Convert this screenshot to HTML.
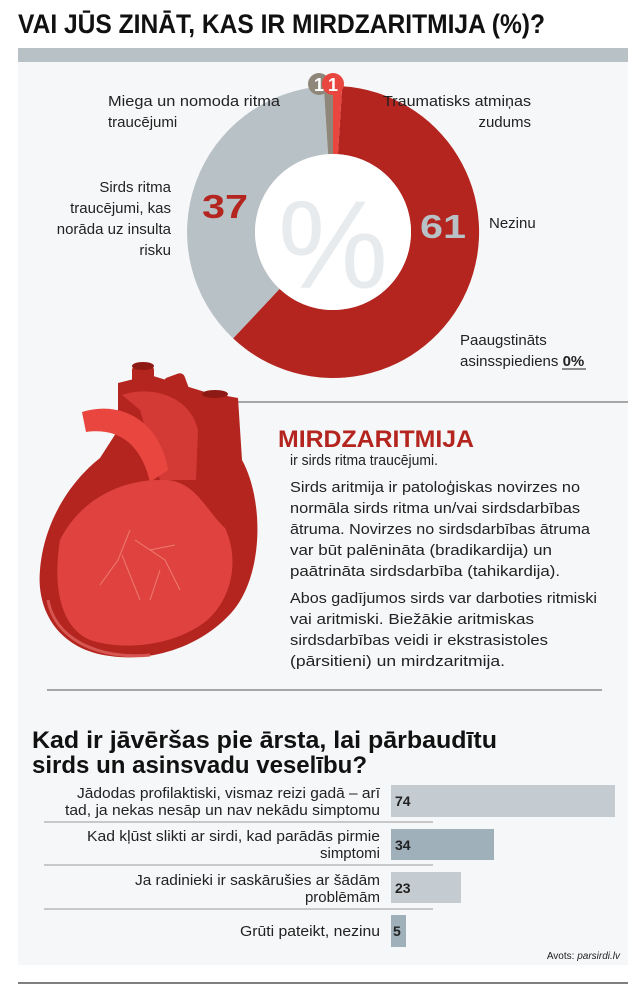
<!DOCTYPE html>
<html><head><meta charset="utf-8"><style>
html,body{margin:0;padding:0;background:#fff;}
svg{display:block;}
text{font-family:"Liberation Sans",sans-serif;fill:#222;}
</style></head><body>
<svg width="644" height="1000" viewBox="0 0 644 1000" xmlns="http://www.w3.org/2000/svg">
<rect width="644" height="1000" fill="#fff"/>
<rect x="18" y="62" width="610" height="903" fill="#f6f7f8"/>
<rect x="18" y="48" width="610" height="14" fill="#b8c1c6"/>
<text x="18" y="33" font-size="27" font-weight="bold" textLength="527" lengthAdjust="spacingAndGlyphs" style="fill:#111">VAI JŪS ZINĀT, KAS IR MIRDZARITMIJA (%)?</text>

<!-- donut -->
<path d="M342.2,86.3 A146,146 0 1 1 233.1,338.4 L279.6,288.9 A78,78 0 1 0 337.9,154.2 Z" fill="#b4251f"/>
<path d="M233.1,338.4 A146,146 0 0 1 323.8,86.3 L328.1,154.2 A78,78 0 0 0 279.6,288.9 Z" fill="#b8c1c6"/>
<path d="M323.8,86.3 A146,146 0 0 1 333,86 L333,154 A78,78 0 0 0 328.1,154.2 Z" fill="#8f877a"/>
<path d="M333,86 A146,146 0 0 1 342.2,86.3 L337.9,154.2 A78,78 0 0 0 333,154 Z" fill="#e8463f"/>
<circle cx="333" cy="232" r="78" fill="#fff"/>
<text x="333" y="288" font-size="125" text-anchor="middle" textLength="110" lengthAdjust="spacingAndGlyphs" style="fill:#e8ebee">%</text>
<circle cx="319" cy="84" r="11" fill="#8f877a"/>
<circle cx="333" cy="84" r="11" fill="#e8463f"/>
<text x="319" y="91" font-size="18" font-weight="bold" text-anchor="middle" style="fill:#fff">1</text>
<text x="333" y="91" font-size="18" font-weight="bold" text-anchor="middle" style="fill:#fff">1</text>
<text x="202" y="218" font-size="33" font-weight="bold" textLength="46" lengthAdjust="spacingAndGlyphs" style="fill:#b4251f">37</text>
<text x="420" y="238" font-size="33" font-weight="bold" textLength="46" lengthAdjust="spacingAndGlyphs" style="fill:#b8c1c6">61</text>

<g font-size="15">
<text x="108" y="106" textLength="172" lengthAdjust="spacingAndGlyphs">Miega un nomoda ritma</text>
<text x="108" y="127">traucējumi</text>
<text x="383" y="106" textLength="148" lengthAdjust="spacingAndGlyphs">Traumatisks atmiņas</text>
<text x="531" y="127" text-anchor="end">zudums</text>
<text x="171" y="192" text-anchor="end">Sirds ritma</text>
<text x="171" y="213" text-anchor="end">traucējumi, kas</text>
<text x="171" y="234" text-anchor="end">norāda uz insulta</text>
<text x="171" y="255" text-anchor="end">risku</text>
<text x="489" y="228">Nezinu</text>
<text x="460" y="345">Paaugstināts</text>
<text x="460" y="366">asinsspiediens <tspan font-weight="bold">0%</tspan></text>
</g>
<line x1="562" y1="369" x2="586" y2="369" stroke="#222" stroke-width="1"/>

<!-- heart -->
<line x1="205" y1="402" x2="628" y2="402" stroke="#555" stroke-width="1"/>
<path d="M118,383 L150,375 L205,392 L238,398 L242,460 C264,500 264,575 232,612 C200,648 150,662 110,656 C60,650 36,612 40,570 C44,520 72,480 100,458 L118,430 Z" fill="#b4251f"/>
<rect x="132" y="365" width="22" height="20" rx="5" fill="#b4251f"/>
<ellipse cx="143" cy="366" rx="11" ry="4" fill="#8e1a16"/>
<rect x="165" y="375" width="22" height="20" rx="5" fill="#b4251f" transform="rotate(-20 176 385)"/>
<rect x="202" y="393" width="26" height="18" rx="5" fill="#b4251f"/>
<ellipse cx="215" cy="394" rx="13" ry="4" fill="#8e1a16"/>
<path d="M122,395 C150,385 190,395 198,430 L196,480 L160,480 L140,410 Z" fill="#d33a35"/>
<path d="M82,412 C120,400 160,420 168,470 L150,482 C140,440 115,428 86,432 Z" fill="#e8463f"/>
<path d="M60,540 C80,500 120,480 160,480 C195,478 205,510 225,528 C240,560 232,600 205,622 C170,648 120,650 90,640 C62,628 52,590 60,540 Z" fill="#e0433f"/>
<path d="M48,600 C55,640 100,660 150,655" stroke="#d65550" stroke-width="3" fill="none"/>
<g stroke="#f08a80" stroke-width="1" fill="none" opacity="0.8">
<path d="M130,530 L118,560 L100,585 M122,555 L140,600 M135,540 L165,560 L180,590 M150,550 L175,545 M160,570 L150,600"/>
</g>

<!-- text block -->
<text x="278" y="447" font-size="24" font-weight="bold" textLength="196" lengthAdjust="spacingAndGlyphs" style="fill:#b4251f">MIRDZARITMIJA</text>
<g font-size="15">
<text x="290" y="465" textLength="148" lengthAdjust="spacingAndGlyphs">ir sirds ritma traucējumi.</text>
<text x="290" y="492" textLength="290" lengthAdjust="spacingAndGlyphs">Sirds aritmija ir patoloģiskas novirzes no</text>
<text x="290" y="513" textLength="290" lengthAdjust="spacingAndGlyphs">normāla sirds ritma un/vai sirdsdarbības</text>
<text x="290" y="534" textLength="300" lengthAdjust="spacingAndGlyphs">ātruma. Novirzes no sirdsdarbības ātruma</text>
<text x="290" y="555" textLength="262" lengthAdjust="spacingAndGlyphs">var būt palēnināta (bradikardija) un</text>
<text x="290" y="576" textLength="270" lengthAdjust="spacingAndGlyphs">paātrināta sirdsdarbība (tahikardija).</text>
<text x="290" y="603" textLength="307" lengthAdjust="spacingAndGlyphs">Abos gadījumos sirds var darboties ritmiski</text>
<text x="290" y="624" textLength="244" lengthAdjust="spacingAndGlyphs">vai aritmiski. Biežākie aritmiskas</text>
<text x="290" y="645" textLength="258" lengthAdjust="spacingAndGlyphs">sirdsdarbības veidi ir ekstrasistoles</text>
<text x="290" y="666" textLength="215" lengthAdjust="spacingAndGlyphs">(pārsitieni) un mirdzaritmija.</text>
</g>
<line x1="47" y1="690" x2="602" y2="690" stroke="#555" stroke-width="1"/>

<!-- bar chart -->
<text x="32" y="748" font-size="24" font-weight="bold" textLength="465" lengthAdjust="spacingAndGlyphs" style="fill:#111">Kad ir jāvēršas pie ārsta, lai pārbaudītu</text>
<text x="32" y="773" font-size="24" font-weight="bold" textLength="335" lengthAdjust="spacingAndGlyphs" style="fill:#111">sirds un asinsvadu veselību?</text>

<rect x="391" y="785" width="224" height="32" fill="#c5ccd1"/>
<rect x="391" y="829" width="103" height="31" fill="#9fb0bb"/>
<rect x="391" y="872" width="70" height="31" fill="#c5ccd1"/>
<rect x="391" y="915" width="15" height="32" fill="#9fb0bb"/>
<g stroke="#999" stroke-width="1">
<line x1="44" y1="822" x2="433" y2="822"/>
<line x1="44" y1="865" x2="433" y2="865"/>
<line x1="44" y1="909" x2="433" y2="909"/>
</g>
<g font-size="15" text-anchor="end">
<text x="380" y="798" textLength="303" lengthAdjust="spacingAndGlyphs">Jādodas profilaktiski, vismaz reizi gadā – arī</text>
<text x="380" y="815" textLength="315" lengthAdjust="spacingAndGlyphs">tad, ja nekas nesāp un nav nekādu simptomu</text>
<text x="380" y="841" textLength="293" lengthAdjust="spacingAndGlyphs">Kad kļūst slikti ar sirdi, kad parādās pirmie</text>
<text x="380" y="858">simptomi</text>
<text x="380" y="885" textLength="245" lengthAdjust="spacingAndGlyphs">Ja radinieki ir saskārušies ar šādām</text>
<text x="380" y="902">problēmām</text>
<text x="380" y="936" textLength="140" lengthAdjust="spacingAndGlyphs">Grūti pateikt, nezinu</text>
</g>
<g font-size="14" font-weight="bold">
<text x="395" y="806">74</text>
<text x="395" y="850">34</text>
<text x="395" y="893">23</text>
<text x="393" y="936">5</text>
</g>
<text x="620" y="959" font-size="10" text-anchor="end">Avots: <tspan font-style="italic">parsirdi.lv</tspan></text>
<line x1="18" y1="983" x2="628" y2="983" stroke="#555" stroke-width="1.5"/>
</svg>
</body></html>
